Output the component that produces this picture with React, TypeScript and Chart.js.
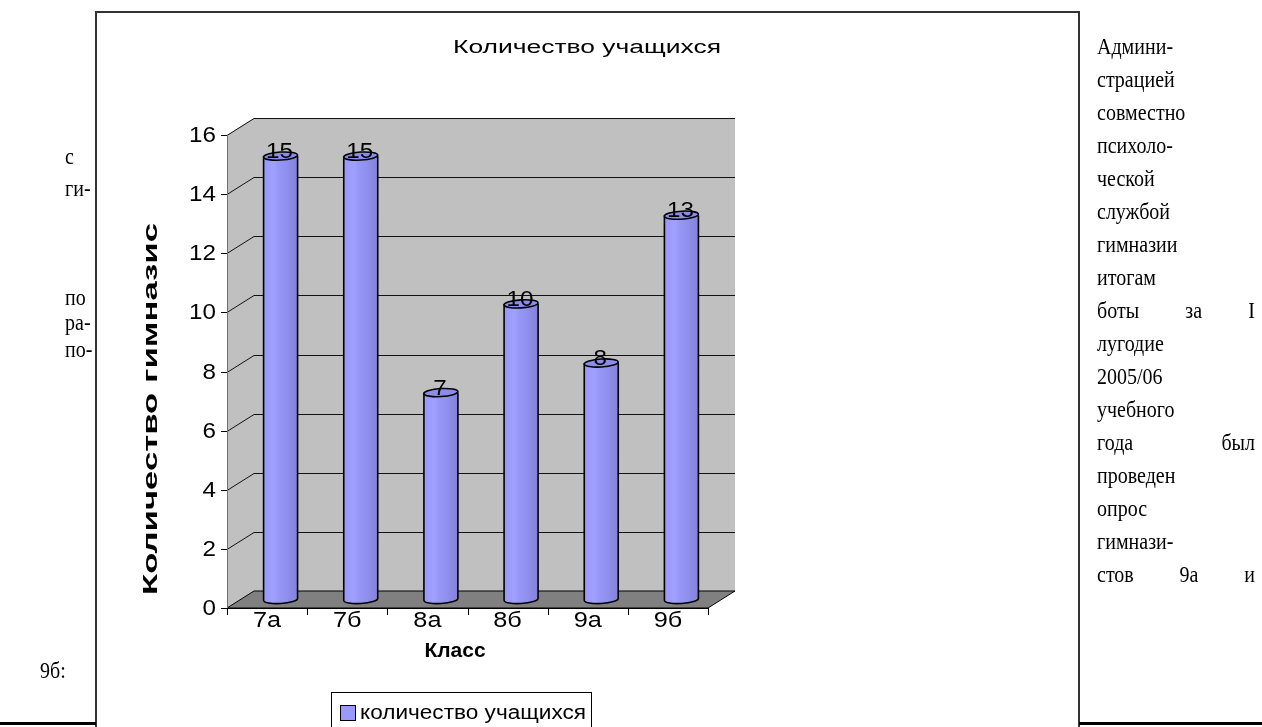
import React, { useEffect, useRef } from "react";
import { Chart, registerables } from "chart.js";

Chart.register(...registerables);

// ---- data ----
const categories = ["7а", "7б", "8а", "8б", "9а", "9б"];
const studentCounts = [15, 15, 7, 10, 8, 13];
const yTickValues = [0, 2, 4, 6, 8, 10, 12, 14, 16];
const seriesName = "количество учащихся";
const chartTitle = "Количество учащихся";
const xAxisTitle = "Класс";
const yAxisTitle = "Количество гимназис";

const leftLines = [
  { t: "с", y: 158, x: 65 },
  { t: "ги-", y: 190, x: 65 },
  { t: "по", y: 299, x: 65 },
  { t: "ра-", y: 324, x: 65 },
  { t: "по-", y: 351, x: 65 },
  { t: "9б:", y: 672, x: 40 },
];
const rightLines = [
  "Админи-",
  "страцией",
  "совместно",
  "психоло-",
  "ческой",
  "службой",
  "гимназии",
  "итогам",
  "боты за I",
  "лугодие",
  "2005/06",
  "учебного",
  "года был",
  "проведен",
  "опрос",
  "гимнази-",
  "стов 9а и",
];
const justifiedRight = ["боты за I", "года был", "стов 9а и"];

// ---- style ----
const SANS = '"Liberation Sans", Arial, sans-serif';
const SERIF = '"Liberation Serif", "Times New Roman", serif';
const BAR_COLOR = "#9999FF";
const DX = 27;
const DY = -17;

function drawText(
  ctx: CanvasRenderingContext2D,
  text: string,
  x: number,
  y: number,
  font: string,
  align: CanvasTextAlign,
  sx = 1,
  baseline: CanvasTextBaseline = "middle",
  rot = 0
) {
  ctx.save();
  ctx.font = font;
  ctx.textAlign = align;
  ctx.textBaseline = baseline;
  ctx.fillStyle = "#000";
  ctx.translate(x, y);
  if (rot) ctx.rotate(rot);
  ctx.scale(sx, 1);
  ctx.fillText(text, 0, 0);
  ctx.restore();
}

function fitScale(ctx: CanvasRenderingContext2D, text: string, font: string, target: number) {
  ctx.save();
  ctx.font = font;
  const w = ctx.measureText(text).width;
  ctx.restore();
  return w > 0 ? target / w : 1;
}

function drawCylinder(
  ctx: CanvasRenderingContext2D,
  cx: number,
  yTop: number,
  yBot: number,
  r: number,
  ry: number
) {
  const tilt = -0.06;
  ctx.save();
  const g = ctx.createLinearGradient(cx - r, 0, cx + r, 0);
  g.addColorStop(0, "#9898FC");
  g.addColorStop(0.3, "#A0A0FF");
  g.addColorStop(0.45, "#9696F6");
  g.addColorStop(0.7, "#8F8FEC");
  g.addColorStop(0.85, "#8888E2");
  g.addColorStop(1, "#8282D8");
  ctx.beginPath();
  ctx.moveTo(cx - r, yTop);
  ctx.lineTo(cx - r, yBot);
  ctx.ellipse(cx, yBot, r, ry, tilt, Math.PI, 0, true);
  ctx.lineTo(cx + r, yTop);
  ctx.ellipse(cx, yTop, r, ry, tilt, 0, Math.PI, false);
  ctx.closePath();
  ctx.fillStyle = g;
  ctx.fill();
  ctx.lineWidth = 1.6;
  ctx.strokeStyle = "#000";
  ctx.beginPath();
  ctx.moveTo(cx - r, yTop);
  ctx.lineTo(cx - r, yBot);
  ctx.ellipse(cx, yBot, r, ry, tilt, Math.PI, 0, true);
  ctx.lineTo(cx + r, yTop);
  ctx.stroke();
  // top cap
  ctx.beginPath();
  ctx.ellipse(cx, yTop, r, ry, tilt, 0, Math.PI * 2);
  ctx.fillStyle = "#8C8CEC";
  ctx.fill();
  ctx.stroke();
  ctx.restore();
}

const threeDPlugin = {
  id: "threeD",
  beforeDatasetsDraw(chart: any) {
    const { ctx, chartArea } = chart;
    const { left, right, top, bottom } = chartArea;
    const ys = chart.scales.y;
    const xs = chart.scales.x;
    ctx.save();
    // side wall
    ctx.fillStyle = "#C0C0C0";
    ctx.beginPath();
    ctx.moveTo(left, top);
    ctx.lineTo(left + DX, top + DY);
    ctx.lineTo(left + DX, bottom + DY);
    ctx.lineTo(left, bottom);
    ctx.closePath();
    ctx.fill();
    // back wall
    ctx.fillRect(left + DX, top + DY, right - left, bottom - top);
    // floor
    ctx.fillStyle = "#808080";
    ctx.beginPath();
    ctx.moveTo(left, bottom);
    ctx.lineTo(right, bottom);
    ctx.lineTo(right + DX, bottom + DY);
    ctx.lineTo(left + DX, bottom + DY);
    ctx.closePath();
    ctx.fill();
    ctx.strokeStyle = "#000";
    ctx.lineWidth = 1;
    ctx.stroke();
    // gridlines
    ctx.strokeStyle = "#111";
    ctx.lineWidth = 1;
    yTickValues.forEach((v) => {
      if (v === 0) return;
      const py = Math.round(ys.getPixelForValue(v)) + 0.5;
      ctx.beginPath();
      ctx.moveTo(left, py);
      ctx.lineTo(left + DX, py + DY);
      ctx.lineTo(right + DX, py + DY);
      ctx.stroke();
    });
    // y axis line
    ctx.strokeStyle = "#707070";
    ctx.beginPath();
    ctx.moveTo(left + 0.5, top);
    ctx.lineTo(left + 0.5, bottom);
    ctx.stroke();
    // y ticks + labels
    ctx.strokeStyle = "#000";
    yTickValues.forEach((v) => {
      const py = Math.round(ys.getPixelForValue(v)) + 0.5;
      ctx.beginPath();
      ctx.moveTo(left - 6, py);
      ctx.lineTo(left, py);
      ctx.stroke();
      drawText(ctx, String(v), left - 11, py, `22px ${SANS}`, "right", 1.1);
    });
    // x axis ticks + labels
    const half = (xs.getPixelForValue(1) - xs.getPixelForValue(0)) / 2;
    ctx.beginPath();
    ctx.moveTo(left, bottom + 0.5);
    ctx.lineTo(right, bottom + 0.5);
    ctx.stroke();
    for (let i = 0; i <= categories.length; i++) {
      const px = Math.round(xs.getPixelForValue(i) - half) + 0.5;
      ctx.beginPath();
      ctx.moveTo(px, bottom);
      ctx.lineTo(px, bottom + 7);
      ctx.stroke();
    }
    categories.forEach((c, i) => {
      drawText(ctx, c, xs.getPixelForValue(i), bottom + 13, `22px ${SANS}`, "center", 1.15);
    });
    ctx.restore();
  },
  afterDatasetsDraw(chart: any) {
    const { ctx } = chart;
    const ys = chart.scales.y;
    const meta = chart.getDatasetMeta(0);
    const values = chart.data.datasets[0].data as number[];
    meta.data.forEach((el: any, i: number) => {
      const cx = el.x + DX / 2;
      const yT = ys.getPixelForValue(values[i]) + DY / 2;
      const yB = ys.getPixelForValue(0) + DY / 2;
      drawCylinder(ctx, cx, yT, yB, 17, 4);
      drawText(ctx, String(values[i]), cx - 1, yT + 2, `22px ${SANS}`, "center", 1.1, "alphabetic");
    });
  },
  afterDraw(chart: any) {
    const { ctx } = chart;
    // title
    const tFont = `18px ${SANS}`;
    drawText(ctx, chartTitle, 587, 48, tFont, "center", fitScale(ctx, chartTitle, tFont, 268));
    // y axis title
    const yFont = `bold 20px ${SANS}`;
    drawText(ctx, yAxisTitle, 151, 409, yFont, "center", fitScale(ctx, yAxisTitle, yFont, 372), "middle", -Math.PI / 2);
    // x axis title
    const xFont = `bold 21px ${SANS}`;
    drawText(ctx, xAxisTitle, 455, 651, xFont, "center", 1.0);
    // legend
    ctx.save();
    ctx.strokeStyle = "#000";
    ctx.lineWidth = 1;
    ctx.strokeRect(331.5, 692.5, 260, 50);
    ctx.fillStyle = BAR_COLOR;
    ctx.fillRect(340.5, 705.5, 15, 15);
    ctx.strokeRect(340.5, 705.5, 15, 15);
    ctx.restore();
    const lFont = `20px ${SANS}`;
    drawText(ctx, seriesName, 360, 713, lFont, "left", fitScale(ctx, seriesName, lFont, 226));
  },
};

export default function App() {
  const ref = useRef<HTMLCanvasElement | null>(null);
  useEffect(() => {
    document.documentElement.style.overflow = "hidden";
    document.body.style.overflow = "hidden";
    const canvas = ref.current;
    if (!canvas) return;
    const chart = new Chart(canvas, {
      type: "bar",
      data: {
        labels: categories,
        datasets: [
          {
            label: seriesName,
            data: studentCounts,
            backgroundColor: "rgba(0,0,0,0)",
            borderWidth: 0,
          },
        ],
      },
      options: {
        responsive: false,
        animation: false,
        devicePixelRatio: 1,
        events: [],
        layout: { padding: { left: 227, right: 1262 - 708, top: 135, bottom: 727 - 608 } },
        plugins: {
          legend: { display: false },
          title: { display: false },
          tooltip: { enabled: false },
        },
        scales: {
          x: { display: false, offset: true },
          y: { display: false, min: 0, max: 16, ticks: { stepSize: 2 } },
        },
      },
      plugins: [threeDPlugin],
    });
    return () => chart.destroy();
  }, []);

  const serif: React.CSSProperties = {
    position: "absolute",
    fontFamily: SERIF,
    fontSize: 20,
    lineHeight: "20px",
    color: "#000",
    whiteSpace: "nowrap",
    transform: "scaleY(1.15)",
    transformOrigin: "0 12px",
  };

  return (
    <div>
      <div
        style={{
          position: "absolute",
          left: 95,
          top: 11,
          width: 985,
          height: 740,
          borderLeft: "2px solid #333",
          borderTop: "2px solid #333",
          borderRight: "2px solid #333",
          boxSizing: "border-box",
        }}
      />
      <div style={{ position: "absolute", left: 0, top: 722, width: 96, height: 3, background: "#000" }} />
      <div style={{ position: "absolute", left: 1079, top: 722, width: 183, height: 3, background: "#000" }} />
      <canvas
        ref={ref}
        width={1262}
        height={727}
        style={{ position: "absolute", left: 0, top: 0, display: "block" }}
      />
      {leftLines.map((l, i) => (
        <div key={"l" + i} style={{ ...serif, left: l.x, top: l.y - 12 }}>
          {l.t}
        </div>
      ))}
      {rightLines.map((t, i) => {
        const j = justifiedRight.includes(t);
        return (
          <div
            key={"r" + i}
            style={{
              ...serif,
              left: 1097,
              top: 48 + 33 * i - 12,
              width: 158,
              textAlign: j ? "justify" : "left",
              textAlignLast: j ? "justify" : "left",
              whiteSpace: j ? "normal" : "nowrap",
            }}
          >
            {t}
          </div>
        );
      })}
    </div>
  );
}
